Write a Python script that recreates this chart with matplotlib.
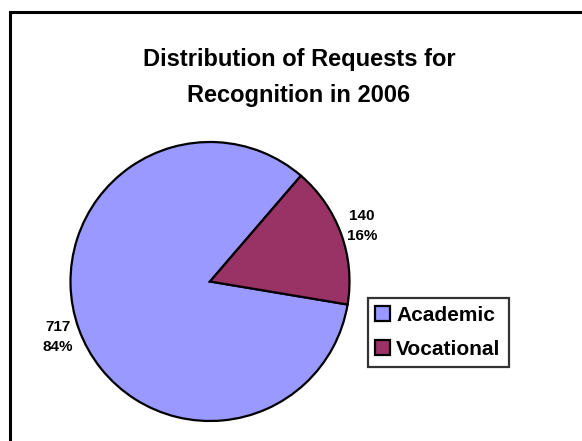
import matplotlib
matplotlib.use("Agg")
import matplotlib.pyplot as plt
from matplotlib.patches import Rectangle

categories = ["Academic", "Vocational"]
values = [717, 140]
percents = ["84%", "16%"]
colors = ["#9999FF", "#993366"]
title = "Distribution of Requests for\nRecognition in 2006"

plt.rcParams['font.family'] = ['Liberation Sans', 'DejaVu Sans']

W, H = 582, 441
fig = plt.figure(figsize=(W / 100, H / 100), dpi=100)
fig.patch.set_facecolor("white")

# outer frame (only left/top visible in the reference)
fig.add_artist(Rectangle((9.5 / W, -0.2), 1.5, 1 - 12 / H + 0.2,
                         transform=fig.transFigure, fill=False,
                         edgecolor="black", linewidth=2.2, clip_on=False))

cx, cy, r = 210, 281.5, 139.5
ax = fig.add_axes([(cx - r) / W, (H - cy - r) / H, 2 * r / W, 2 * r / H])
labels = [f"{v}\n{p}" for v, p in zip(values, percents)]
wedges, texts = ax.pie(values, colors=colors, startangle=-9.5, counterclock=False,
                       labels=labels, labeldistance=1.16, radius=1,
                       wedgeprops=dict(edgecolor="black", linewidth=1.6))
for t in texts:
    t.set_ha("center")
    t.set_va("center")
    t.set_fontsize(11)
    t.set_fontweight("bold")
    t.set_linespacing(1.55)
ax.set_xlim(-1, 1)
ax.set_ylim(-1, 1)
ax.set_aspect("equal")
ax.axis("off")

fig.text(299 / W, 1 - 77.5 / H, title, ha="center", va="center",
         fontsize=17, fontweight="bold", linespacing=1.7)

leg = fig.legend(wedges, categories, loc="upper left",
                 bbox_to_anchor=(367.5 / W, 1 - 298 / H),
                 prop=dict(size=15, weight="bold"), frameon=True,
                 fancybox=False, handlelength=0.7, handleheight=0.7,
                 handletextpad=0.3, borderpad=0.38, labelspacing=0.72,
                 borderaxespad=0)
leg.get_frame().set_edgecolor("black")
leg.get_frame().set_linewidth(1.6)
for h in leg.legend_handles:
    h.set_linewidth(1.6)

fig.savefig("out.png", dpi=100)
